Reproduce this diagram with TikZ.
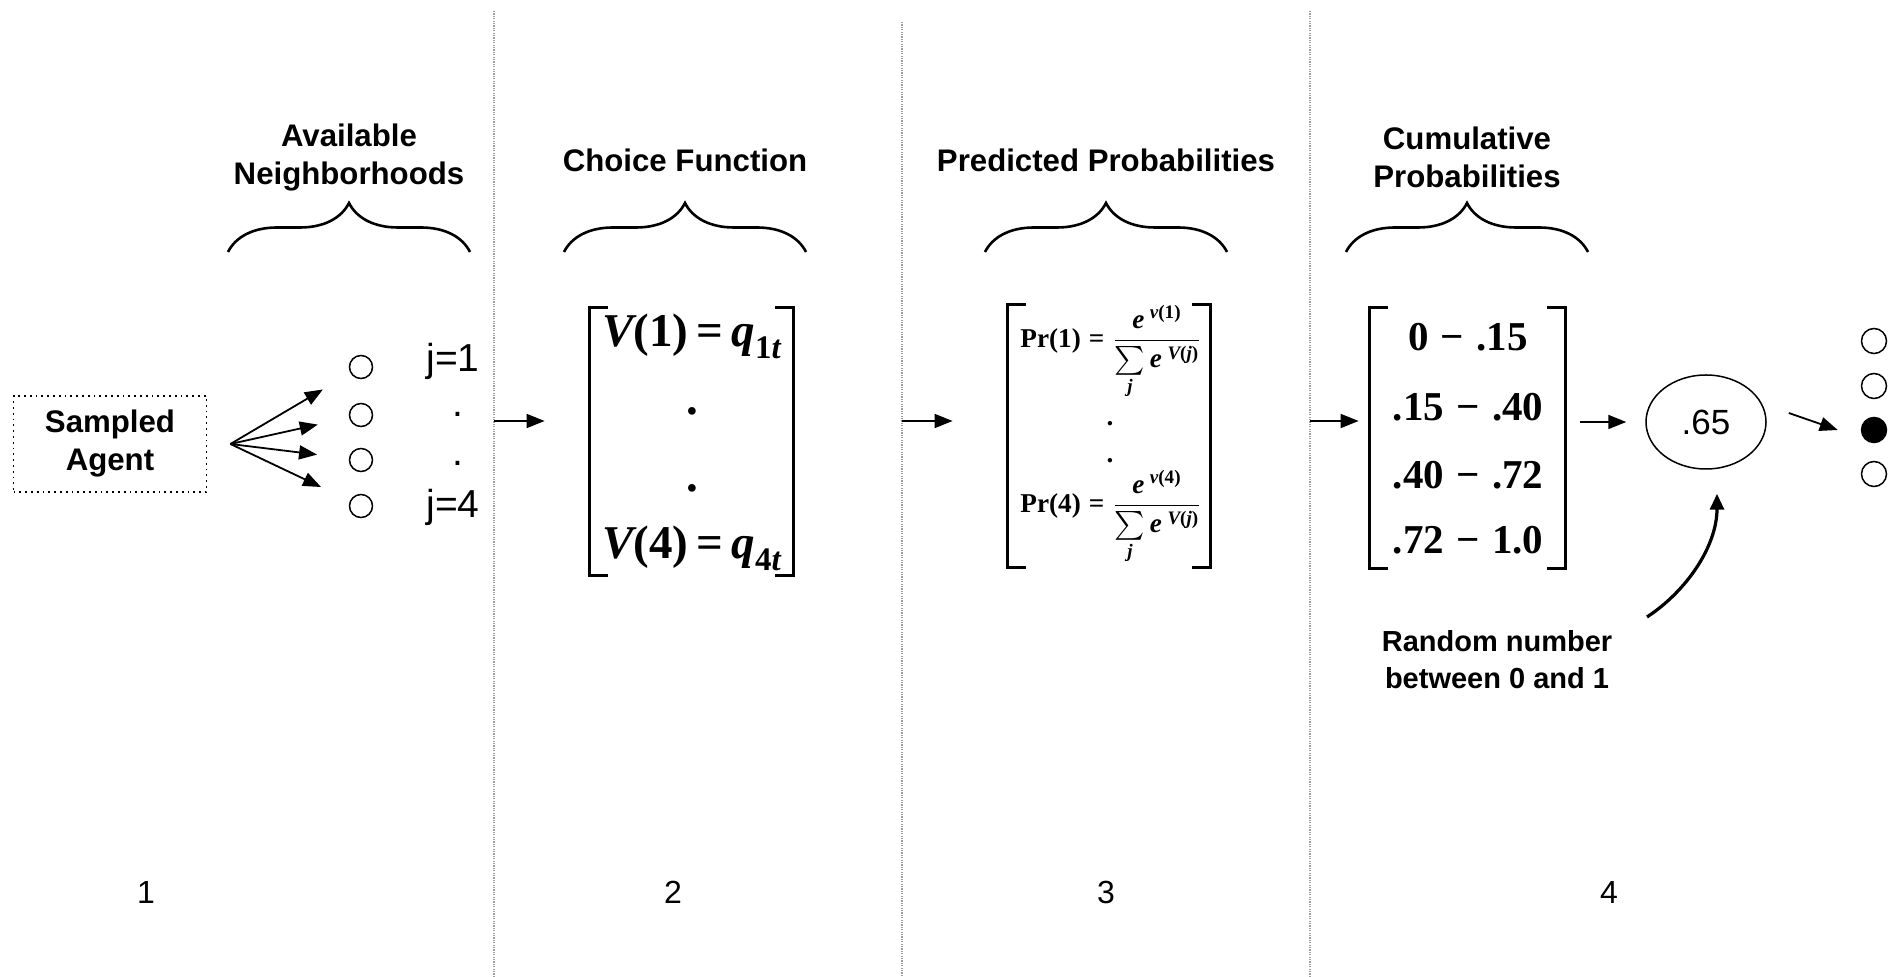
\documentclass[tikz,border=0pt]{standalone}
\usepackage{amsmath}
\usepackage{fontspec}
\setmainfont{Liberation Sans}
\newfontfamily\tnr{Liberation Serif}
\usetikzlibrary{arrows.meta, positioning, shapes.geometric, decorations.pathreplacing}
\newcommand{\tbi}[1]{\text{\itshape #1}}
\newcommand{\tbu}[1]{\text{#1}}
\newcommand{\tmin}{\hspace{0.3em}−\hspace{0.3em}}
\tikzset{
  head/.style={font=\bfseries\fontsize{15.6}{19}\selectfont, align=center},
  sep/.style={draw=gray!75, line width=1pt, dash pattern=on 0.6pt off 0.6pt},
  brc/.style={decorate, decoration={brace, amplitude=24.5pt}, line width=1.3pt},
  arr/.style={-{Triangle[length=9pt, width=7pt]}, line width=0.9pt},
  curv/.style={-{Triangle[length=8pt, width=7pt]}, line width=1.6pt},
  nbh/.style={circle, draw, line width=0.75pt, minimum size=11.5pt, inner sep=0pt},
  jlab/.style={font=\fontsize{19.5}{23}\selectfont, inner sep=0pt},
  num/.style={font=\fontsize{16}{19}\selectfont},
  mat/.style={inner sep=0pt},
  brk/.style={line width=1.8pt},
  choicerow/.style={font=\tnr\bfseries\fontsize{23.5}{28}\selectfont, inner sep=0pt},
  predrow/.style={font=\tnr\bfseries\fontsize{13.6}{16}\selectfont, inner sep=0pt},
  cumrow/.style={font=\tnr\bfseries\fontsize{20.5}{24}\selectfont, inner sep=0pt},
}

\begin{document}
\begin{tikzpicture}[x=0.5pt, y=-0.5pt]
  \useasboundingbox[fill=white] (0,0) rectangle (1891,977);
  % panel separators
  \draw[sep] (494,11) -- (494,977);
  \draw[sep] (902,22) -- (902,977);
  \draw[sep] (1310,11) -- (1310,977);
  \coordinate (a1) at (494,421);
  \coordinate (a2) at (902,421);
  \coordinate (a3) at (1310,421);

  % headers and braces
  \node[head] (hAvail) at (349,158) {Available\\Neighborhoods};
  \node[head] (hChoice) at (685,160) {Choice Function};
  \node[head] (hPred) at (1106,160) {Predicted Probabilities};
  \node[head] (hCum) at (1467,157) {Cumulative\\Probabilities};
  \foreach \x in {349,685,1106,1467}
    \draw[brc] (\x-121,252) -- (\x+121,252);

  % panel 1
  \node[draw, dotted, line width=0.9pt, minimum width=96.5pt, minimum height=48pt,
        font=\bfseries\fontsize{15.6}{19}\selectfont, align=center] (agent) at (110,444) {Sampled\\Agent};
  \coordinate (fan) at ([xshift=11.5pt]agent.east);
  \foreach \y [count=\i] in {367,415,460,506}
    \node[nbh] (n\i) at (361,\y) {};
  \foreach \i in {1,...,4}
    \draw[arr, shorten >=16pt] (fan) -- (n\i);
  \node[jlab, anchor=base] (j1) at (453,372) {j=1};
  \node[jlab] (jd1) at (458,414) {.};
  \node[jlab] (jd2) at (458,463) {.};
  \node[jlab, anchor=base] (j4) at (453,518) {j=4};

  % panel 2
  \node[mat, minimum width=101.5pt, minimum height=133.5pt] (choice) at (691.5,441.5) {};
  \node[choicerow] (v1) at (692,336) {$\tbi{V}\tbu{(1)}\mkern3mu\tbu{=}\mkern3mu\tbi{q}_{\tbu{1}\tbi{t}}$};
  \node[choicerow] (vd1) at (692,411) {.};
  \node[choicerow] (vd2) at (692,488) {.};
  \node[choicerow] (v4) at (692,548) {$\tbi{V}\tbu{(4)}\mkern3mu\tbu{=}\mkern3mu\tbi{q}_{\tbu{4}\tbi{t}}$};
  \draw[arr, shorten >=22.5pt] (a1) -- (a1 -| choice.west);

  % panel 3
  \node[mat, minimum width=101pt, minimum height=131pt] (pred) at (1109,436) {};
  \node[predrow, anchor=base west] (p1) at (1020,348)
    {$\tbu{Pr(1)}\mathrel{\tbu{=}}\dfrac{\tbi{e}^{\;\tbi{v}\tbu{(1)}}}{\sum\limits_{\tbi{j}}\tbi{e}^{\;\tbi{V}\tbu{(}\tbi{j}\tbu{)}}}$};
  \node[predrow] (pd1) at (1110,424) {.};
  \node[predrow] (pd2) at (1110,461) {.};
  \node[predrow, anchor=base west] (p4) at (1020,513)
    {$\tbu{Pr(4)}\mathrel{\tbu{=}}\dfrac{\tbi{e}^{\;\tbi{v}\tbu{(4)}}}{\sum\limits_{\tbi{j}}\tbi{e}^{\;\tbi{V}\tbu{(}\tbi{j}\tbu{)}}}$};
  \draw[arr, shorten >=27.5pt] (a2) -- (a2 -| pred.west);

  % panel 4
  \node[mat, minimum width=97.5pt, minimum height=130pt] (cum) at (1467.5,438) {};
  \node[cumrow] (c1) at (1468,337) {0\tmin.15};
  \node[cumrow] (c2) at (1468,407) {.15\tmin.40};
  \node[cumrow] (c3) at (1468,475) {.40\tmin.72};
  \node[cumrow] (c4) at (1468,540) {.72\tmin1.0};
  \draw[arr, shorten >=5.5pt] (a3) -- (a3 -| cum.west);

  \foreach \m in {choice,pred,cum} {
    \draw[brk] ([xshift=9pt]\m.north west) -- (\m.north west) -- (\m.south west) -- ([xshift=9pt]\m.south west);
    \draw[brk] ([xshift=-9pt]\m.north east) -- (\m.north east) -- (\m.south east) -- ([xshift=-9pt]\m.south east);
  }

  \node[draw, ellipse, line width=0.75pt, minimum width=60pt, minimum height=47pt, inner sep=0pt,
        font=\fontsize{17.5}{21}\selectfont] (rval) at (1706,422) {.65};
  \draw[arr, shorten <=7.5pt, shorten >=9.5pt] (rval.west -| cum.east) -- (rval.west);
  \foreach \y/\f [count=\i] in {341/white,386/white,430/black,474/white}
    \node[nbh, minimum size=12.5pt, fill=\f] (o\i) at (1874,\y) {};
  \draw[arr] ([shift={(22,-9)}]rval.east) -- ([shift={(-23,0)}]o3.west);

  \node[head, font=\bfseries\fontsize{14.5}{18.5}\selectfont] (rnd) at (1497,660) {Random number\\between 0 and 1};
  \coordinate (rs) at (1647,617);
  \draw[curv] (rs) .. controls (1688,590) and (1717,545) .. ([shift={(11,24)}]rval.south);

  % panel numbers
  \foreach \x [count=\i] in {146,673,1106,1609}
    \node[num] (num\i) at (\x,892) {\i};
\end{tikzpicture}
\end{document}
